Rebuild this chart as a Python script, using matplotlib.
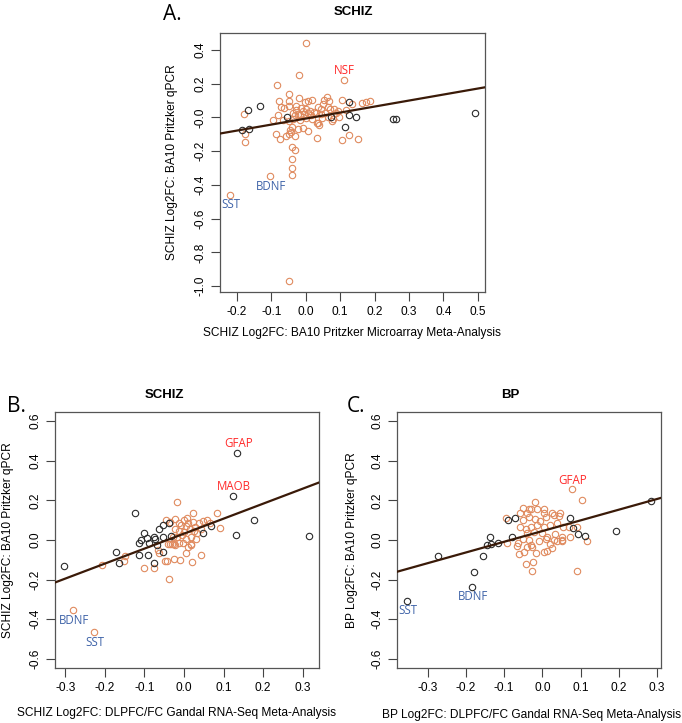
import numpy as np
import matplotlib
matplotlib.use('Agg')
import matplotlib.pyplot as plt
from matplotlib.ticker import FormatStrFormatter

plt.rcParams['font.family'] = ['Liberation Sans', 'DejaVu Sans']

ORANGE = '#E08A5E'
BLACK = '#2b2b2b'
LINE = '#3a1a08'
RED = '#FF2A2A'
BLUE = '#3F63A8'

# ---- Panel A: SCHIZ microarray vs qPCR ----
a_orange_x = [0.0, -0.02, 0.11, -0.083, -0.05, -0.078, -0.05, -0.02, -0.05, -0.072, -0.064, -0.027,
              -0.178, -0.176, -0.175, -0.095, -0.081, -0.066, 0.163, 0.176, 0.188,
              -0.001, 0.007, 0.018, 0.053, 0.062, 0.068, 0.105,
              -0.027, -0.014, -0.008, 0.0, 0.012, 0.024, 0.037, 0.044, 0.05, 0.064, 0.07, 0.083, 0.095, 0.118, 0.134,
              -0.037, -0.031, -0.023, -0.017, -0.006, 0.008, 0.016, 0.029, 0.043, 0.056, 0.064, 0.079, 0.096, 0.089, 0.048,
              -0.048, -0.037, -0.017, 0.002, 0.018, 0.034, 0.039, -0.008, 0.008, -0.023, -0.041, -0.046,
              -0.087, -0.074, -0.056, -0.05, -0.043, -0.03, -0.041, -0.03, -0.041, -0.039, -0.04, -0.103, -0.219,
              0.126, 0.151, 0.105, 0.034, 0.036, 0.077, -0.05]
a_orange_y = [0.44, 0.25, 0.22, 0.19, 0.139, 0.10, 0.10, 0.116, 0.07, 0.061, 0.053, 0.07,
              0.018, -0.098, -0.145, -0.018, 0.012, -0.014, 0.085, 0.09, 0.095,
              0.09, 0.096, 0.102, 0.102, 0.12, 0.10, 0.102,
              0.041, 0.053, 0.037, 0.047, 0.037, 0.033, 0.063, 0.051, 0.082, 0.061, 0.047, 0.051, 0.037, 0.045, 0.082,
              0.027, 0.014, 0.022, 0.012, 0.018, 0.027, 0.016, 0.024, 0.018, 0.027, 0.004, -0.008, 0.004, 0.027, -0.002,
              -0.021, -0.012, -0.016, -0.002, -0.012, -0.035, -0.047, -0.062, -0.082, -0.07, -0.055, -0.074,
              -0.10, -0.126, -0.11, -0.10, -0.085, -0.11, -0.178, -0.194, -0.245, -0.30, -0.34, -0.35, -0.46,
              -0.104, -0.126, -0.135, -0.124, -0.035, -0.02, -0.97]
a_black_x = [-0.134, -0.167, -0.186, -0.165, -0.054, 0.126, 0.125, 0.145, 0.114, 0.073, 0.255, 0.262, 0.493]
a_black_y = [0.07, 0.045, -0.072, -0.068, 0.0, 0.094, 0.016, 0.0, -0.057, 0.0, -0.01, -0.01, 0.024]
a_fit = (-0.007, 0.356)  # intercept, slope
a_genes = ['NSF', 'BDNF', 'SST']
a_gene_x = [0.11, -0.103, -0.219]
a_gene_y = [0.22, -0.35, -0.46]

# ---- Panel B: SCHIZ RNA-seq vs qPCR ----
b_orange_x = [-0.018, 0.022, 0.083, 0.091, -0.208, -0.149, -0.151, -0.1, -0.076, -0.047, -0.043, -0.066, -0.063,
              -0.038, -0.025, -0.01, 0.019, 0.005, 0.043, 0.018, -0.04, -0.03, -0.025,
              -0.045, -0.035, -0.022, -0.013, 0.0, 0.007, -0.008, 0.004, 0.01, 0.022, 0.029, 0.039, 0.049, 0.057, 0.066,
              -0.022, -0.012, 0.0, 0.014, 0.024, 0.032, 0.044, -0.029, -0.017, -0.005, 0.005, 0.017, 0.03,
              -0.012, -0.002, 0.017, -0.035, -0.022, 0.01, -0.28, -0.227]
b_orange_y = [0.193, 0.138, 0.134, 0.062, -0.124, -0.082, -0.104, -0.141, -0.144, -0.104, -0.104, -0.052, -0.067,
              -0.198, -0.097, -0.1, -0.111, -0.064, -0.077, -0.022, -0.022, -0.022, -0.02,
              0.101, 0.091, 0.104, 0.087, 0.101, 0.111, 0.074, 0.07, 0.084, 0.091, 0.067, 0.084, 0.097, 0.101, 0.084,
              0.054, 0.047, 0.04, 0.054, 0.044, 0.034, 0.054, 0.017, 0.017, 0.023, 0.007, 0.013, 0.003,
              -0.017, -0.017, -0.023, -0.02, -0.023, -0.037, -0.356, -0.467]
b_black_x = [0.135, 0.125, 0.176, 0.131, 0.316, -0.125, 0.069, 0.047, -0.302, -0.172, -0.163, -0.114, -0.113, -0.108,
             -0.1, -0.093, -0.089, -0.077, -0.074, -0.069, -0.091, -0.077, -0.062, -0.052, -0.039, -0.052, -0.034, -0.052]
b_black_y = [0.44, 0.222, 0.099, 0.024, 0.022, 0.138, 0.07, 0.034, -0.131, -0.06, -0.114, -0.077, -0.017, 0.0,
             0.037, 0.008, -0.017, 0.017, 0.007, -0.023, -0.074, -0.118, 0.054, 0.077, 0.084, -0.06, 0.02, 0.013]
b_fit = (0.032, 0.757)
b_genes = ['GFAP', 'MAOB', 'BDNF', 'SST']
b_gene_x = [0.135, 0.125, -0.28, -0.227]
b_gene_y = [0.44, 0.222, -0.356, -0.467]

# ---- Panel C: BP RNA-seq vs qPCR ----
c_orange_x = [0.078, 0.103, 0.117, -0.019, -0.095, 0.091, -0.027, -0.042, -0.024, -0.061, -0.049, -0.016, 0.004,
              0.013, 0.025, -0.067, -0.041, -0.029, -0.027, 0.02, 0.037, 0.05, -0.093,
              -0.05, -0.036, -0.029, -0.058, -0.041, -0.015, 0.005, 0.003, 0.024, 0.046, -0.051, -0.036, -0.02, -0.006,
              0.01, 0.029, 0.043, -0.058, -0.044, -0.03, -0.015, 0.005, 0.02, 0.037, 0.055, 0.069, 0.09,
              -0.041, -0.023, -0.002, 0.012, 0.032, 0.052, 0.072, -0.051, -0.034, -0.009, 0.01, 0.029, 0.05, -0.065]
c_orange_y = [0.255, 0.2, -0.006, 0.19, 0.111, -0.155, -0.156, -0.119, -0.109, -0.071, -0.062, -0.067, -0.059,
              -0.054, -0.042, -0.03, -0.034, -0.027, -0.037, -0.02, -0.003, -0.003, -0.013,
              0.16, 0.156, 0.158, 0.134, 0.134, 0.158, 0.158, 0.138, 0.138, 0.138, 0.101, 0.118, 0.108, 0.097,
              0.118, 0.124, 0.121, 0.067, 0.054, 0.067, 0.076, 0.067, 0.076, 0.084, 0.067, 0.067, 0.064,
              0.034, 0.042, 0.034, 0.017, 0.029, 0.017, 0.017, 0.003, 0.0, -0.003, 0.003, 0.0, 0.0, -0.013]
c_black_x = [0.285, 0.192, 0.073, 0.079, 0.093, 0.112, -0.09, -0.072, -0.138, -0.079, -0.145, -0.134, -0.117,
             -0.353, -0.184, -0.18, -0.273, -0.156]
c_black_y = [0.196, 0.044, 0.111, 0.059, 0.029, 0.02, 0.101, 0.111, 0.017, 0.013, -0.027, -0.02, -0.017,
             -0.307, -0.238, -0.16, -0.079, -0.079]
c_fit = (0.045, 0.541)
c_genes = ['GFAP', 'BDNF', 'SST']
c_gene_x = [0.078, -0.184, -0.353]
c_gene_y = [0.255, -0.238, -0.307]

gene_colors = {'NSF': RED, 'GFAP': RED, 'MAOB': RED, 'BDNF': BLUE, 'SST': BLUE}


def draw_panel(ax, ox, oy, bx, by, fit, genes, gx, gy, xlim, ylim, xticks, yticks,
               xlabel, ylabel, xlab_pos, ylab_pos):
    ax.plot(ox, oy, 'o', ms=4.6, mfc='none', mec=ORANGE, mew=0.8, zorder=2)
    ax.plot(bx, by, 'o', ms=4.6, mfc='none', mec=BLACK, mew=0.8, zorder=3)
    ax.axline((0, fit[0]), slope=fit[1], color=LINE, lw=1.6, zorder=4)
    for g, x, y in zip(genes, gx, gy):
        dy = 6.8 if gene_colors[g] == RED else -7
        ax.annotate(g, (x, y), xytext=(0.5, dy), textcoords='offset points',
                    ha='center', va='center', color=gene_colors[g], fontsize=8.3,
                    family=['Open Sans', 'DejaVu Sans'])
    ax.set_xlim(xlim)
    ax.set_ylim(ylim)
    ax.set_xticks(xticks)
    ax.set_yticks(yticks)
    ax.xaxis.set_major_formatter(FormatStrFormatter('%.1f'))
    ax.yaxis.set_major_formatter(FormatStrFormatter('%.1f'))
    ax.tick_params(direction='out', length=6.5, width=0.8, color='#444444', labelsize=8.6, pad=3.5)
    for lab in ax.get_yticklabels():
        lab.set_rotation(90)
        lab.set_va('center')
    for s in ax.spines.values():
        s.set_color('#555555')
        s.set_linewidth(0.9)
    ax.set_xlabel(xlabel, fontsize=8.6, va='center')
    ax.set_ylabel(ylabel, fontsize=8.6, va='center')
    ax.xaxis.set_label_coords(*xlab_pos)
    ax.yaxis.set_label_coords(*ylab_pos)


fig = plt.figure(figsize=(6.82, 7.23), dpi=100)

ax_a = fig.add_axes([0.3226, 0.5961, 0.3886, 0.3582])
draw_panel(ax_a, a_orange_x, a_orange_y, a_black_x, a_black_y, a_fit, a_genes, a_gene_x, a_gene_y,
           (-0.249, 0.521), (-1.035, 0.5), np.arange(-0.2, 0.51, 0.1), np.arange(-1.0, 0.41, 0.2),
           'SCHIZ Log2FC: BA10 Pritzker Microarray Meta-Analysis', 'SCHIZ Log2FC: BA10 Pritzker qPCR',
           (0.498, -0.158), (-0.181, 0.5))

ax_b = fig.add_axes([0.0806, 0.0757, 0.3871, 0.3549])
draw_panel(ax_b, b_orange_x, b_orange_y, b_black_x, b_black_y, b_fit, b_genes, b_gene_x, b_gene_y,
           (-0.326, 0.341), (-0.648, 0.648), np.arange(-0.3, 0.31, 0.1), np.arange(-0.6, 0.61, 0.2),
           'SCHIZ Log2FC: DLPFC/FC Gandal RNA-Seq Meta-Analysis', 'SCHIZ Log2FC: BA10 Pritzker qPCR',
           (0.46, -0.174), (-0.178, 0.5))

ax_c = fig.add_axes([0.5826, 0.0757, 0.3867, 0.3549])
draw_panel(ax_c, c_orange_x, c_orange_y, c_black_x, c_black_y, c_fit, c_genes, c_gene_x, c_gene_y,
           (-0.379, 0.31), (-0.648, 0.648), np.arange(-0.3, 0.31, 0.1), np.arange(-0.6, 0.61, 0.2),
           'BP Log2FC: DLPFC/FC Gandal RNA-Seq Meta-Analysis', 'BP Log2FC: BA10 Pritzker qPCR',
           (0.507, -0.182), (-0.172, 0.5))

# titles and panel letters
fig.text(353 / 682, 1 - 12 / 723, 'SCHIZ', ha='center', va='center', fontsize=9.5, weight='bold')
fig.text(164 / 682, 1 - 395 / 723, 'SCHIZ', ha='center', va='center', fontsize=9.5, weight='bold')
fig.text(510 / 682, 1 - 395 / 723, 'BP', ha='center', va='center', fontsize=9.5, weight='bold')
for letter, x, y in [('A.', 172, 14), ('B.', 16, 407), ('C.', 356, 407)]:
    fig.text(x / 682, 1 - y / 723, letter, ha='center', va='center', fontsize=15,
             family=['Open Sans', 'DejaVu Sans'])

fig.savefig('out.png', dpi=100)
